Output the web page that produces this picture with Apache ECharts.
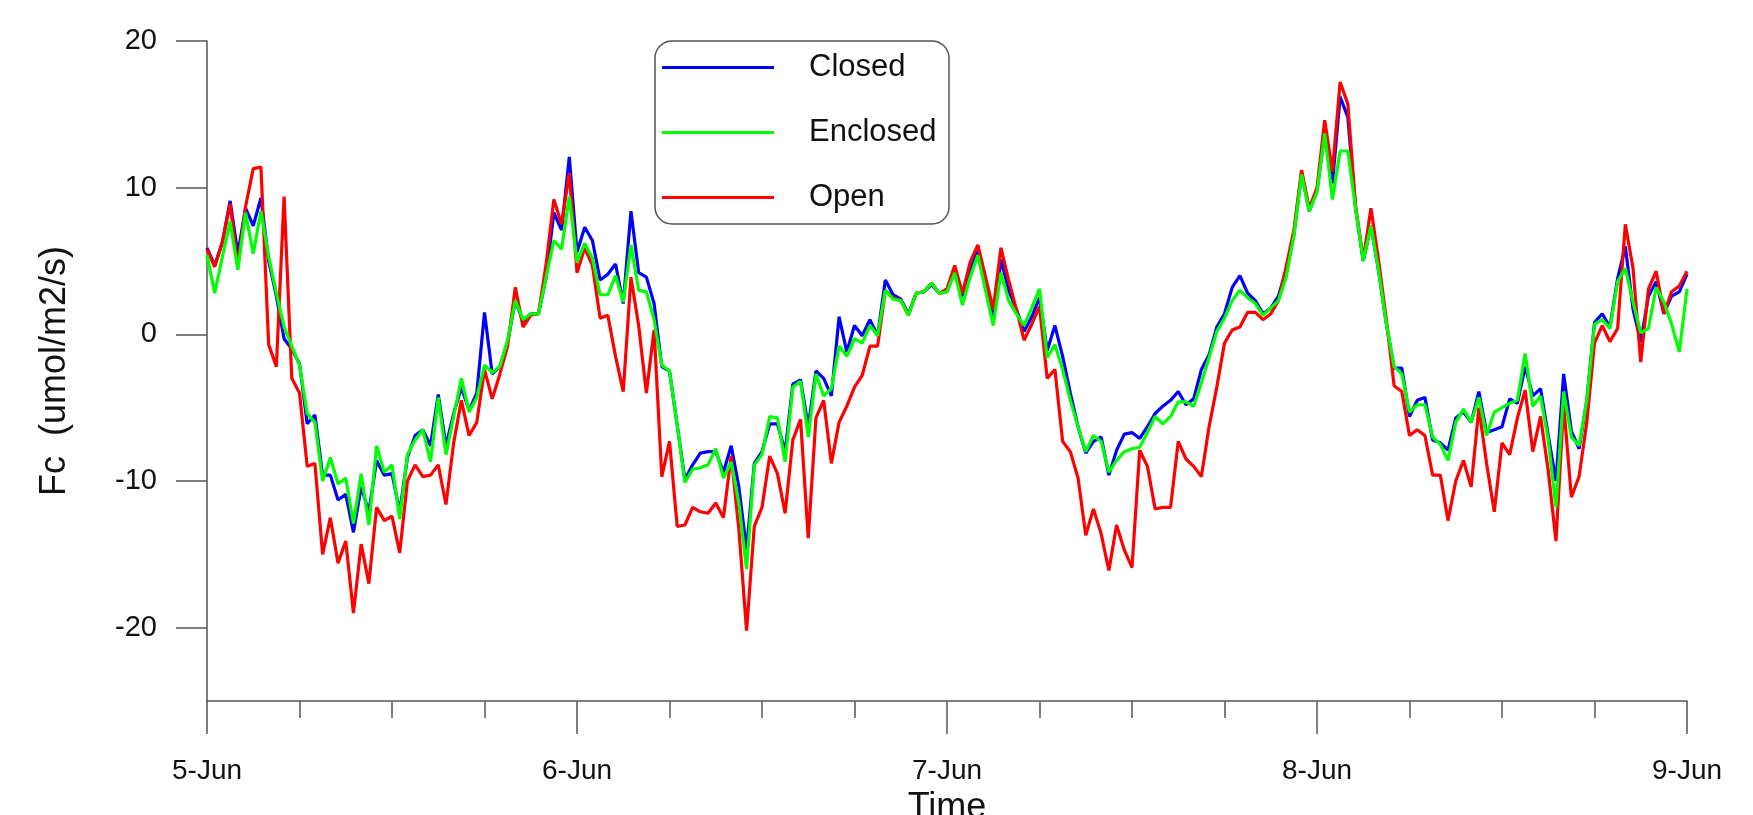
<!DOCTYPE html>
<html>
<head>
<meta charset="utf-8">
<title>Fc</title>
<script src="https://cdn.jsdelivr.net/npm/echarts@6/dist/echarts.min.js"></script>
<style>
  html, body { margin: 0; padding: 0; background: #fff; }
  #fc_line { width: 1753px; height: 815px; }
</style>
</head>
<body>
<div id="fc_line"></div>
<script>
// half-hourly readings, 5-Jun 00:00 to 9-Jun 00:00
const stepHours = 0.5
const dayLabels = ['5-Jun', '6-Jun', '7-Jun', '8-Jun', '9-Jun']
const yTicks = [-20, -10, 0, 10, 20]

const closed = [
  5.9, 4.7, 6.3, 9.1, 5.5, 8.6, 7.4, 9.3, 5.0, 2.6, -0.3, -1.0, -2.0, -6.1, -5.5, -9.6,
  -9.6, -11.3, -10.9, -13.5, -10.4, -12.1, -8.6, -9.6, -9.5, -12.1, -8.4, -6.9, -6.5, -7.6, -4.1, -7.6,
  -5.4, -3.6, -5.2, -4.0, 1.5, -2.7, -2.2, -0.5, 2.3, 0.9, 1.4, 1.4, 3.9, 8.3, 7.1, 12.1,
  5.6, 7.3, 6.4, 3.7, 4.1, 4.8, 2.1, 8.4, 4.2, 3.9, 2.1, -2.2, -2.5, -6.2, -9.9, -8.9,
  -8.1, -8.0, -8.0, -9.4, -7.6, -10.4, -14.7, -8.8, -8.0, -6.1, -6.1, -8.0, -3.4, -3.1, -6.3, -2.5,
  -3.0, -4.2, 1.2, -1.2, 0.6, -0.1, 1.0, -0.1, 3.7, 2.7, 2.4, 1.4, 2.8, 2.9, 3.4, 2.8,
  2.9, 4.4, 2.6, 4.4, 5.7, 3.6, 0.9, 5.1, 3.0, 1.7, 0.2, 1.2, 2.5, -1.1, 0.6, -1.5,
  -4.0, -6.3, -8.1, -7.3, -7.0, -9.6, -7.9, -6.8, -6.7, -7.1, -6.3, -5.4, -4.9, -4.5, -3.9, -4.8,
  -4.4, -2.4, -1.4, 0.5, 1.4, 3.2, 4.0, 2.8, 2.3, 1.4, 1.8, 2.6, 4.4, 6.8, 11.0, 8.4,
  9.8, 13.7, 10.3, 16.2, 14.8, 8.6, 5.0, 7.4, 4.3, 0.7, -2.3, -2.3, -5.6, -4.5, -4.3, -7.2,
  -7.4, -7.9, -5.7, -5.3, -6.0, -3.9, -6.7, -6.5, -6.3, -4.4, -4.7, -2.2, -4.2, -3.7, -6.9, -10.0,
  -2.7, -6.6, -7.8, -4.5, 0.8, 1.4, 0.5, 3.8, 6.0, 1.7, -0.5, 2.6, 3.6, 1.4, 2.6, 2.9,
  4.1
]

const enclosed = [
  5.4, 2.8, 5.3, 7.7, 4.4, 8.3, 5.5, 8.4, 5.3, 2.8, 0.5, -0.8, -2.1, -5.4, -6.0, -10.0,
  -8.4, -10.2, -9.8, -12.9, -9.5, -13.0, -7.6, -9.4, -8.9, -12.6, -8.2, -7.2, -6.5, -8.7, -4.3, -8.2,
  -5.6, -3.0, -5.3, -4.3, -2.1, -2.6, -2.2, -0.4, 2.3, 1.0, 1.4, 1.4, 3.9, 6.4, 5.8, 9.4,
  4.9, 6.2, 5.2, 2.7, 2.7, 4.0, 2.2, 6.1, 3.0, 2.9, 1.0, -2.1, -2.5, -6.2, -10.1, -9.2,
  -9.1, -8.9, -7.8, -9.8, -8.7, -11.5, -16.0, -8.9, -8.2, -5.6, -5.7, -8.7, -3.6, -3.2, -7.0, -2.7,
  -4.2, -3.7, -0.8, -1.5, -0.3, -0.6, 0.6, -0.1, 3.0, 2.4, 2.3, 1.3, 2.8, 2.9, 3.5, 2.8,
  2.9, 4.2, 2.0, 3.9, 5.4, 3.0, 0.6, 4.2, 2.3, 1.4, 0.6, 1.8, 3.1, -1.6, -0.7, -2.4,
  -4.5, -6.3, -8.0, -6.9, -7.3, -9.4, -8.6, -8.0, -7.8, -7.7, -6.7, -5.6, -6.1, -5.6, -4.6, -4.6,
  -4.9, -3.3, -1.6, 0.2, 1.1, 2.3, 3.0, 2.5, 2.1, 1.3, 1.8, 2.3, 3.9, 6.7, 10.9, 8.4,
  9.7, 13.7, 9.2, 12.5, 12.5, 8.6, 5.0, 7.4, 4.3, 0.7, -2.2, -2.7, -5.3, -4.8, -4.8, -7.0,
  -7.5, -8.6, -6.0, -5.1, -6.0, -4.3, -6.9, -5.3, -5.0, -4.7, -4.5, -1.3, -4.9, -4.2, -7.2, -11.8,
  -3.9, -7.0, -7.6, -4.5, 0.7, 1.0, 0.4, 3.6, 4.5, 2.2, 0.1, 0.4, 3.2, 2.2, 0.7, -1.2,
  3.1
]

const open = [
  5.8, 4.6, 6.3, 8.9, 4.6, 8.7, 11.3, 11.4, -0.7, -2.2, 9.4, -3.0, -4.0, -9.0, -8.8, -15.0,
  -12.5, -15.6, -14.1, -19.0, -14.3, -17.0, -11.8, -12.7, -12.4, -14.9, -10.0, -8.9, -9.7, -9.6, -8.9, -11.6,
  -7.4, -4.5, -6.9, -6.0, -2.4, -4.4, -2.7, -0.8, 3.2, 0.5, 1.3, 1.4, 4.8, 9.2, 7.5, 11.0,
  4.2, 5.9, 4.7, 1.1, 1.3, -1.5, -3.9, 3.9, 0.6, -4.0, 0.3, -9.7, -7.3, -13.1, -13.0, -11.8,
  -12.1, -12.2, -11.5, -12.5, -8.3, -13.3, -20.2, -13.1, -11.8, -8.3, -9.5, -12.2, -7.2, -5.8, -13.9, -5.7,
  -4.5, -8.8, -6.0, -4.9, -3.6, -2.8, -0.8, -0.8, 3.0, 2.5, 2.3, 1.3, 2.8, 2.9, 3.5, 2.8,
  3.1, 4.7, 2.8, 4.9, 6.1, 3.9, 1.7, 5.9, 3.7, 1.7, -0.4, 0.7, 1.9, -3.0, -2.4, -7.3,
  -8.0, -9.8, -13.7, -11.9, -13.6, -16.1, -13.0, -14.7, -15.9, -7.9, -9.0, -11.9, -11.8, -11.8, -7.3, -8.5,
  -9.0, -9.7, -6.3, -3.6, -0.6, 0.3, 0.5, 1.5, 1.5, 1.0, 1.4, 2.3, 4.6, 7.1, 11.2, 8.6,
  10.0, 14.6, 11.1, 17.2, 15.7, 8.8, 5.1, 8.6, 5.0, 1.0, -3.5, -3.9, -6.9, -6.5, -6.9, -9.6,
  -9.6, -12.7, -10.0, -8.6, -10.4, -5.0, -8.8, -12.1, -7.4, -8.2, -5.7, -3.8, -8.0, -5.6, -9.3, -14.1,
  -4.8, -11.1, -9.7, -6.0, -0.6, 0.6, -0.5, 0.4, 7.5, 4.5, -1.9, 3.1, 4.3, 1.4, 2.9, 3.3,
  4.3
]

const axisColor = '#555'
const fontFamily = '"Liberation Sans", Arial, sans-serif'

function toPoints(values) {
  return values.map((v, i) => [i * stepHours, v])
}

function lineSeries(name, values, color) {
  return {
    name: name,
    type: 'line',
    data: toPoints(values),
    symbol: 'none',
    showSymbol: false,
    lineStyle: { color: color, width: 3.2 },
    itemStyle: { color: color }
  }
}

const chart = echarts.init(document.getElementById('fc_line'))
chart.setOption({
  animation: false,
  backgroundColor: '#fff',
  textStyle: { fontFamily: fontFamily },
  grid: {
    left: 207,
    right: 66,
    top: 41,
    bottom: 114,
    outerBoundsMode: 'none'
  },
  legend: {
    orient: 'vertical',
    left: 655,
    top: 41,
    data: ['Closed', 'Enclosed', 'Open'],
    icon: 'rect',
    itemWidth: 112,
    itemHeight: 3,
    itemGap: 34,
    padding: [11, 10, 11, 7],
    borderColor: axisColor,
    borderWidth: 1.5,
    borderRadius: 17,
    textStyle: {
      fontSize: 31,
      color: '#111',
      lineHeight: 30,
      width: 130,
      padding: [0, 0, 0, 30]
    }
  },
  xAxis: {
    type: 'value',
    min: 0,
    max: 96,
    interval: 24,
    name: 'Time',
    nameLocation: 'middle',
    nameGap: 83,
    nameTextStyle: { fontSize: 36, color: '#111' },
    axisLine: { onZero: false, lineStyle: { color: axisColor, width: 1.5 } },
    axisTick: { length: 33, lineStyle: { color: axisColor, width: 1.5 } },
    minorTick: { show: true, splitNumber: 4, length: 17, lineStyle: { color: axisColor, width: 1.5 } },
    splitLine: { show: false },
    axisLabel: {
      fontSize: 28,
      color: '#111',
      margin: 56,
      formatter: function(v) {
        return dayLabels[Math.round(v / 24)]
      }
    }
  },
  yAxis: {
    type: 'value',
    min: -25,
    max: 20,
    name: 'Fc  (umol/m2/s)',
    nameLocation: 'middle',
    nameGap: 134,
    nameTextStyle: { fontSize: 36, color: '#111' },
    axisLine: { show: true, onZero: false, lineStyle: { color: axisColor, width: 1.5 } },
    axisTick: { show: true, length: 31, customValues: yTicks, lineStyle: { color: axisColor, width: 1.5 } },
    splitLine: { show: false },
    axisLabel: {
      customValues: yTicks,
      fontSize: 29,
      color: '#111',
      margin: 50
    }
  },
  series: [
    lineSeries('Closed', closed, '#0000ff'),
    lineSeries('Open', open, '#ff0000'),
    lineSeries('Enclosed', enclosed, '#00ff00')
  ]
})
</script>
</body>
</html>
